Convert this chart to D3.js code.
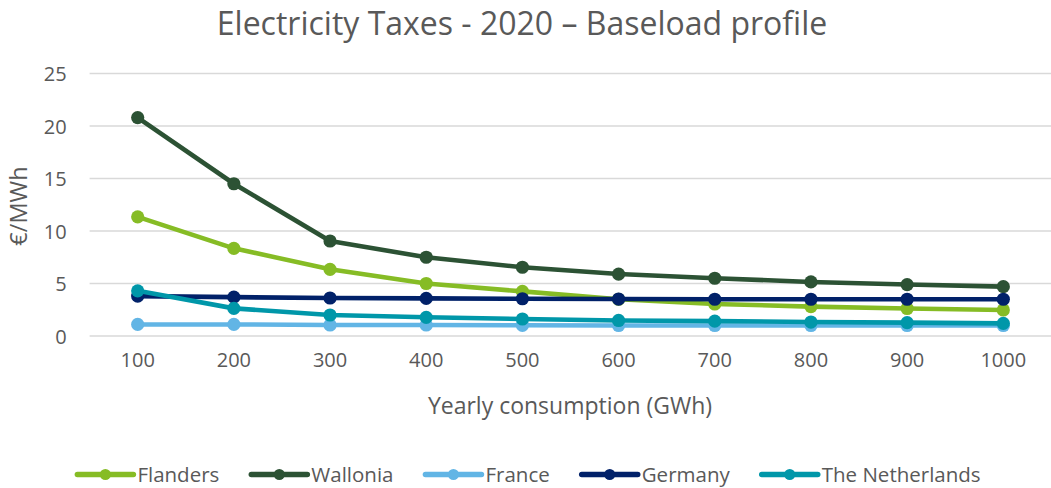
<!DOCTYPE html>
<html>
<head>
<meta charset="utf-8">
<script src="https://cdn.jsdelivr.net/npm/d3@7"></script>
<style>
	body { margin: 0; background: #ffffff; }
	text { font-family: "Open Sans", sans-serif; fill: #595959; }
</style>
</head>
<body>
<div id="chart"></div>
<script>

// categories on the x axis (yearly consumption in GWh)
var categories = ["100", "200", "300", "400", "500", "600", "700", "800", "900", "1000"];

// series values in €/MWh
var flanders = [11.35, 8.35, 6.35, 5.0, 4.25, 3.5, 3.05, 2.8, 2.62, 2.48];
var wallonia = [20.8, 14.5, 9.05, 7.5, 6.55, 5.9, 5.5, 5.15, 4.9, 4.7];
var france = [1.1, 1.1, 1.05, 1.05, 1.02, 1.0, 1.0, 1.0, 1.0, 1.0];
var germany = [3.8, 3.7, 3.62, 3.58, 3.55, 3.52, 3.5, 3.5, 3.5, 3.5];
var netherlands = [4.3, 2.63, 2.0, 1.78, 1.62, 1.48, 1.42, 1.33, 1.27, 1.2];

// series names and y tick labels
var seriesNames = ["Flanders", "Wallonia", "France", "Germany", "The Netherlands"];
var yTicks = [0, 5, 10, 15, 20, 25];

// colours, one per series
var colors = ["#86bc25", "#2c5234", "#62b5e5", "#012169", "#0097a9"];

var width = 1051;
var height = 488;

/**
 * renders the whole chart
 */
function renderChart(container)
{
	var series = [flanders, wallonia, france, germany, netherlands];

	var svg = d3.select(container).append("svg")
		.attr("width", width)
		.attr("height", height);

	// scales
	var x = d3.scaleBand()
		.domain(categories)
		.range([89.6, 1051.4]);

	var y = d3.scaleLinear()
		.domain([0, 25])
		.range([336, 73.5]);

	// title
	svg.append("text")
		.attr("x", 522)
		.attr("y", 34.5)
		.attr("text-anchor", "middle")
		.attr("font-size", "32px")
		.text("Electricity Taxes - 2020 \u2013 Baseload profile");

	// horizontal grid lines
	svg.append("g").selectAll("line")
		.data(yTicks)
		.join("line")
			.attr("x1", x.range()[0])
			.attr("x2", x.range()[1])
			.attr("y1", function(d) { return y(d); })
			.attr("y2", function(d) { return y(d); })
			.attr("stroke", "#d9d9d9")
			.attr("stroke-width", 1.4);

	// y axis, drawn by d3 with the domain line hidden
	var yAxis = svg.append("g")
		.attr("transform", "translate(" + x.range()[0] + ",0)")
		.call(d3.axisLeft(y).tickValues(yTicks).tickSize(0).tickPadding(23));
	yAxis.select(".domain").remove();
	yAxis.selectAll("text")
		.attr("font-size", "20px")
		.attr("font-family", "Open Sans, sans-serif")
		.attr("fill", "#595959")
		.attr("dy", "0.36em");

	// x axis
	var xAxis = svg.append("g")
		.attr("transform", "translate(0," + y(0) + ")")
		.call(d3.axisBottom(x).tickSize(0).tickPadding(24));
	xAxis.select(".domain").remove();
	xAxis.selectAll("text")
		.attr("font-size", "20px")
		.attr("font-family", "Open Sans, sans-serif")
		.attr("fill", "#595959")
		.attr("dy", "0.36em");

	// axis titles
	svg.append("text")
		.attr("x", 570)
		.attr("y", 414)
		.attr("text-anchor", "middle")
		.attr("font-size", "23px")
		.text("Yearly consumption (GWh)");

	svg.append("text")
		.attr("transform", "translate(27,206) rotate(-90)")
		.attr("text-anchor", "middle")
		.attr("font-size", "23.5px")
		.text("\u20ac/MWh");

	// lines and markers, one group per series
	var line = d3.line()
		.x(function(d, i) { return x(categories[i]) + x.bandwidth() / 2; })
		.y(function(d) { return y(d); });

	series.forEach(function(values, s)
	{
		var g = svg.append("g");

		g.append("path")
			.attr("d", line(values))
			.attr("fill", "none")
			.attr("stroke", colors[s])
			.attr("stroke-width", 4.6)
			.attr("stroke-linejoin", "round");

		g.selectAll("circle")
			.data(values)
			.join("circle")
				.attr("cx", function(d, i) { return x(categories[i]) + x.bandwidth() / 2; })
				.attr("cy", function(d) { return y(d); })
				.attr("r", 6.6)
				.attr("fill", colors[s]);
	});

	renderLegend(svg);
}

/**
 * lays the legend out in one row, centred under the chart
 */
function renderLegend(svg)
{
	var legend = svg.append("g");
	var xPos = 0;
	var lineLen = 56;

	seriesNames.forEach(function(name, s)
	{
		var item = legend.append("g")
			.attr("transform", "translate(" + xPos + ",0)");

		item.append("line")
			.attr("x1", 0)
			.attr("x2", lineLen)
			.attr("y1", 0)
			.attr("y2", 0)
			.attr("stroke", colors[s])
			.attr("stroke-width", 5.5)
			.attr("stroke-linecap", "round");

		item.append("circle")
			.attr("cx", lineLen / 2)
			.attr("cy", 0)
			.attr("r", 5.5)
			.attr("fill", colors[s]);

		var label = item.append("text")
			.attr("x", lineLen + 4)
			.attr("y", 7.3)
			.attr("font-size", "20.5px")
			.text(name);

		// move along for the next item
		xPos += lineLen + 4 + label.node().getComputedTextLength() + 32;
	});

	// centre the row
	var total = xPos - 32;
	legend.attr("transform", "translate(" + (529 - total / 2) + ",474.5)");
}

renderChart("#chart");

</script>
</body>
</html>
